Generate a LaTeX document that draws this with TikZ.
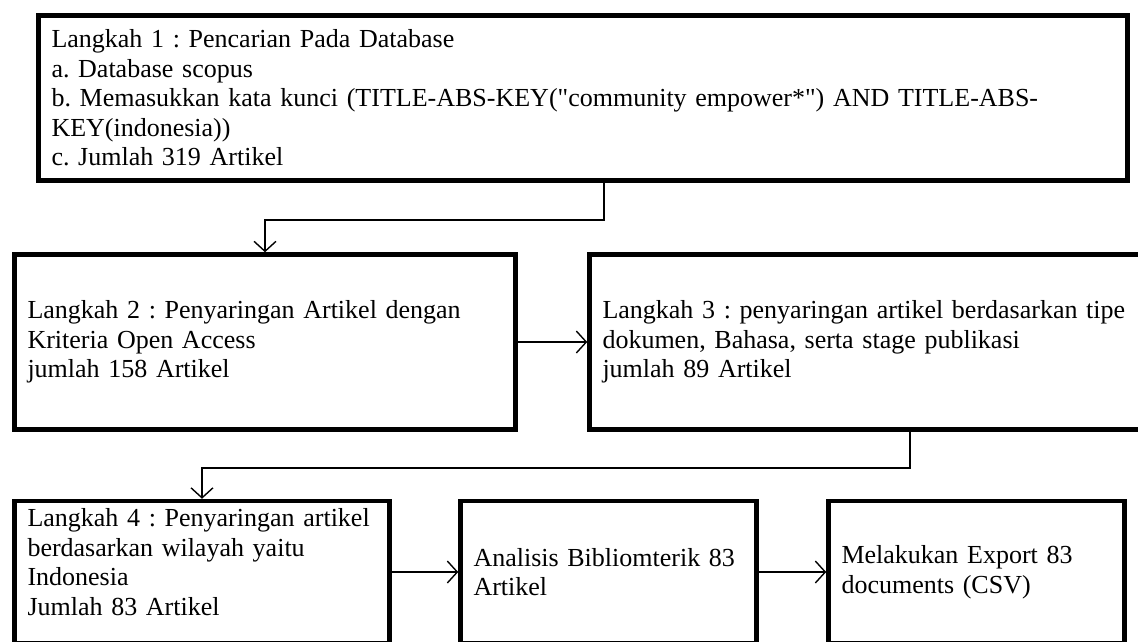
\documentclass[tikz,border=0pt]{standalone}
\usepackage{fontspec}
\setmainfont{Liberation Serif}[Ligatures=TeXOff]
\usetikzlibrary{arrows.meta}
\newcommand\boxfont{\fontsize{26}{29.5}\selectfont\frenchspacing}
\tikzset{
  stepbox/.style={draw, line width=4.5pt, inner xsep=13pt, inner ysep=0pt, align=left, font=\boxfont},
  flow/.style={line width=1.4pt, -{Straight Barb[length=10pt,width=22pt,line width=1.4pt]}}
}
\begin{document}
\begin{tikzpicture}[x=1pt,y=-1pt]
  \useasboundingbox (0,0) rectangle (1138,641);
  \fill[white] (0,0) rectangle (1138,641);
  \clip (0,0) rectangle (1138,641);
  % step 1, database search
  \node[stepbox, text width=1063pt, minimum height=165pt] (b1) at (583,98)
    {Langkah 1 : Pencarian Pada Database\\
     a. Database scopus\\
     b. Memasukkan kata kunci (TITLE-ABS-KEY("community empower*") AND TITLE-ABS-\\
     KEY(indonesia))\\
     c. Jumlah 319 Artikel};
  % step 2 and step 3
  \node[stepbox, text width=475pt, minimum height=175pt] (b2) at (265,342)
    {Langkah 2 : Penyaringan Artikel dengan\\
     Kriteria Open Access\\
     jumlah 158 Artikel};
  \node[stepbox, text width=615pt, minimum height=175pt] (b3) at (910,342)
    {Langkah 3 : penyaringan artikel berdasarkan tipe\\
     dokumen, Bahasa, serta stage publikasi\\
     jumlah 89 Artikel};
  % bottom row, cut off by the page edge
  \node[stepbox, text width=349pt, minimum height=142pt] (b4) at (202,572)
    {Langkah 4 : Penyaringan artikel\\
     berdasarkan wilayah yaitu\\
     Indonesia\\
     Jumlah 83 Artikel\rule[-20pt]{0pt}{1pt}};
  \node[stepbox, text width=270pt, minimum height=142pt] (b5) at (608.5,572)
    {Analisis Bibliomterik 83\\
     Artikel};
  \node[stepbox, text width=270pt, minimum height=142pt] (b6) at (976.5,572)
    {Melakukan Export 83\\
     documents (CSV)};
  % connectors
  \coordinate (k1) at (604,220);
  \coordinate (k2) at (910,468);
  \draw[flow] (b1.south -| k1) -- (k1) -| (b2.north);
  \draw[flow] (b2.east) -- (b3.west);
  \draw[flow] (b3.south -| k2) -- (k2) -| (b4.north);
  \draw[flow] (b4.east |- b5.west) -- (b5.west);
  \draw[flow] (b5.east) -- (b6.west);
\end{tikzpicture}
\end{document}
